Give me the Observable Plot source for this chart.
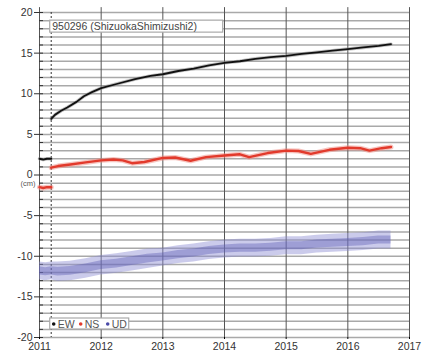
<!DOCTYPE html>
<html><head><meta charset="utf-8">
<script src="https://cdn.jsdelivr.net/npm/d3@7"></script>
<script src="https://cdn.jsdelivr.net/npm/@observablehq/plot@0.6"></script>
<style>
body{margin:0;background:#fff;}
#chart svg{display:block;font-family:"Liberation Sans",Arial,sans-serif;}
</style></head>
<body><div id="chart"></div>
<script>
// ---- data ----
const station = "950296 (ShizuokaShimizushi2)";
const yTicks = [-20,-15,-10,-5,0,5,10,15,20];
const xTicks = [2011,2012,2013,2014,2015,2016,2017];
const quake = 2011.19;
const seriesNames = ["EW","NS","UD"];

// EW (black)
const ewTime = [2011.0,2011.06,2011.12,2011.19, 2011.19, 2011.19,2011.25,2011.35,2011.45,2011.6,2011.72,2011.85,2012.0,2012.25,2012.55,2012.8,2013.0,2013.25,2013.5,2013.75,2014.0,2014.25,2014.5,2014.75,2015.0,2015.25,2015.5,2015.75,2016.0,2016.25,2016.5,2016.7];
const ewVal  = [2.0,1.9,2.0,2.0, NaN, 6.9,7.4,7.9,8.3,9.0,9.7,10.2,10.7,11.2,11.8,12.2,12.4,12.8,13.1,13.5,13.8,14.0,14.3,14.5,14.65,14.9,15.1,15.3,15.5,15.7,15.9,16.1];

// NS (red)
const nsTime = [2011.0,2011.06,2011.12,2011.19, 2011.19, 2011.19,2011.3,2011.5,2011.75,2012.0,2012.2,2012.35,2012.5,2012.7,2013.0,2013.2,2013.45,2013.7,2014.0,2014.25,2014.4,2014.7,2015.0,2015.2,2015.4,2015.7,2016.0,2016.2,2016.35,2016.55,2016.7];
const nsVal  = [-1.5,-1.6,-1.5,-1.5, NaN, 0.9,1.1,1.3,1.55,1.8,1.9,1.8,1.45,1.6,2.1,2.15,1.75,2.2,2.4,2.55,2.2,2.7,3.0,2.95,2.6,3.1,3.35,3.3,3.0,3.3,3.45];

// UD (blue) : centre of the scattered band and its half-width
const udTime = [2011.0,2011.1,2011.19,2011.3,2011.5,2011.75,2012.0,2012.25,2012.5,2012.75,2013.0,2013.25,2013.5,2013.75,2014.0,2014.25,2014.5,2014.75,2015.0,2015.25,2015.5,2015.75,2016.0,2016.25,2016.5,2016.7];
const udMid  = [-11.8,-11.9,-11.8,-11.9,-11.8,-11.5,-11.1,-10.9,-10.6,-10.3,-10.1,-9.8,-9.6,-9.3,-9.1,-9.0,-9.0,-8.9,-8.7,-8.7,-8.5,-8.4,-8.3,-8.2,-8.0,-8.0];
const udHalf = [1.1,1.1,1.1,1.2,1.2,1.2,1.2,1.2,1.2,1.2,1.1,1.1,1.1,1.1,1.1,1.1,1.1,1.1,1.1,1.1,1.1,1.1,1.1,1.1,1.1,1.1];

// ---- build tables ----
const ew = ewTime.map((t,i)=>({t, v: ewVal[i]}));
const ns = nsTime.map((t,i)=>({t, v: nsVal[i]}));
const ud = udTime.map((t,i)=>({t, m: udMid[i], lo: udMid[i]-udHalf[i], hi: udMid[i]+udHalf[i], lo2: udMid[i]-udHalf[i]*0.45, hi2: udMid[i]+udHalf[i]*0.45}));
const gridY = d3.range(-20, 21, 1);

const colors = {EW:"#111111", NS:"#e23a2c", UD:"#4a4aa8"};

const chart = Plot.plot({
  width: 429, height: 358,
  marginLeft: 39, marginRight: 20, marginTop: 12, marginBottom: 21,
  x: {domain: [2011, 2017], label: null},
  y: {domain: [-20, 20], label: null},
  style: {fontFamily: "'Liberation Sans', Arial, sans-serif", background: "#fff"},
  marks: [
    // horizontal grid every 1 cm
    Plot.ruleY(gridY, {stroke: "#a9a9a9", strokeWidth: 1.5}),
    // vertical year lines
    Plot.ruleX(xTicks, {stroke: "#555", strokeWidth: 1, y1: -20, y2: 20.6}),
    Plot.ruleX([quake], {stroke: "#333", strokeWidth: 1, strokeDasharray: "2,2"}),
    // axes
    Plot.axisY(gridY, {tickSize: -4, tickFormat: () => "", stroke: "#333", label: null}),
    Plot.axisY(yTicks, {tickSize: 5, tickPadding: 2, fontSize: 10.5, fill: "#333", stroke: "#333", label: null, tickFormat: d => d < 0 ? "-" + Math.abs(d) : String(d)}),
    Plot.axisX(xTicks, {tickSize: 2, tickPadding: 3, fontSize: 10.5, fill: "#333", label: null, tickFormat: d => String(d)}),
    Plot.text(["(cm)"], {frameAnchor: "left", x: 2011, y: 0, dx: -19, dy: 9, fontSize: 7.5, fill: "#555"}),
    // UD scatter band
    Plot.areaY(ud, {x: "t", y1: "lo", y2: "hi", fill: "#8c8cd2", fillOpacity: 0.45, curve: "linear"}),
    Plot.areaY(ud, {x: "t", y1: "lo2", y2: "hi2", fill: "#5a5ab4", fillOpacity: 0.4, curve: "linear"}),
    // NS
    Plot.line(ns, {x: "t", y: "v", stroke: "#f08a80", strokeWidth: 5, strokeOpacity: 0.5}),
    Plot.line(ns, {x: "t", y: "v", stroke: colors.NS, strokeWidth: 2.4}),
    // EW
    Plot.line(ew, {x: "t", y: "v", stroke: "#888", strokeWidth: 3.5, strokeOpacity: 0.5}),
    Plot.line(ew, {x: "t", y: "v", stroke: colors.EW, strokeWidth: 1.8}),
  ]
});

// station label and legend (placed with the chart scales)
const sx = chart.scale("x"), sy = chart.scale("y");
const svg = d3.select(chart);
const lx = sx.apply(2011.19), ly = sy.apply(19);
const g = svg.append("g").attr("font-family", "'Liberation Sans', Arial, sans-serif").attr("text-anchor", "start");
g.append("rect").attr("x", lx - 1).attr("y", ly).attr("width", 173).attr("height", 12).attr("fill", "#fff").attr("stroke", "#aaa").attr("stroke-width", 1.2);
g.append("text").attr("x", lx + 1.5).attr("y", ly + 10).attr("font-size", 10.5).attr("fill", "#444").text(station);

const legX = sx.apply(2011.19), legY = sy.apply(-18.4);
const lg = svg.append("g").attr("font-family", "'Liberation Sans', Arial, sans-serif").attr("text-anchor", "start");
lg.append("rect").attr("x", legX - 1).attr("y", legY - 6).attr("width", 79).attr("height", 11).attr("fill", "#fff").attr("stroke", "#aaa").attr("stroke-width", 1.2);
let cx = legX;
seriesNames.forEach(n => {
  lg.append("circle").attr("cx", cx + 3).attr("cy", legY).attr("r", 1.8).attr("fill", colors[n]);
  lg.append("text").attr("x", cx + 7).attr("y", legY + 4).attr("font-size", 10.5).attr("fill", "#555").text(n);
  cx += 27;
});

document.getElementById("chart").append(chart);
</script>
</body></html>
